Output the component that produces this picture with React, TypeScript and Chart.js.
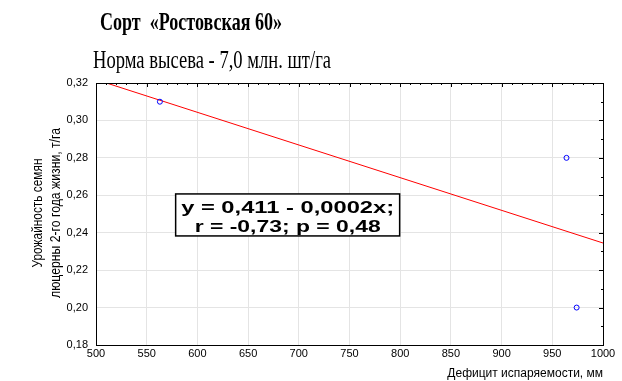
import React, { useEffect, useRef } from "react";
import { Chart, registerables } from "chart.js";

Chart.register(...registerables);

const titleText = "Сорт  «Ростовская 60»";
const subtitleText = "Норма высева - 7,0 млн. шт/га";
const yTitleLines = ["Урожайность семян", "люцерны 2-го года жизни, т/га"];
const xTitleText = "Дефицит испаряемости, мм";
const annotationLines = ["y = 0,411 - 0,0002x;", "r = -0,73; p = 0,48"];
const annotationAnchor = { x: 689, y: 0.2495 };

const pointX = [563, 964, 974];
const pointY = [0.31, 0.28, 0.2];

const fitX = [500, 1000];
const fitY = [0.3218, 0.2345];

const xMin = 500, xMax = 1000, xStep = 50, xMinor = 10;
const yMin = 0.18, yMax = 0.32, yStep = 0.02, yMinor = 0.01;

function fmt(v: number, d: number) {
  return v.toFixed(d).replace(".", ",");
}

function drawFitText(ctx: CanvasRenderingContext2D, text: string, font: string, cx: number, baseline: number, targetW: number, sy: number) {
  ctx.save();
  ctx.font = font;
  const w = ctx.measureText(text).width;
  const sx = targetW / w;
  ctx.translate(cx, baseline);
  ctx.scale(sx, sy);
  ctx.textAlign = "center";
  ctx.textBaseline = "alphabetic";
  ctx.fillText(text, 0, 0);
  ctx.restore();
}

const decorPlugin = {
  id: "decor",
  afterDraw(chart: any) {
    const ctx: CanvasRenderingContext2D = chart.ctx;
    const { left, right, top, bottom } = chart.chartArea;
    const xs = chart.scales.x;
    const ys = chart.scales.y;
    ctx.save();
    ctx.fillStyle = "#000";
    // titles
    drawFitText(ctx, titleText, "bold 19px 'Liberation Serif', 'Times New Roman', serif", 191, 30, 182, 1.3);
    drawFitText(ctx, subtitleText, "20px 'Liberation Serif', 'Times New Roman', serif", 212, 68, 238, 1.3);
    // y title (rotated)
    const yc = (top + bottom) / 2 - 1;
    const yt = [
      { x: 42, w: 109 },
      { x: 60, w: 170 },
    ];
    yTitleLines.forEach((t, i) => {
      ctx.save();
      ctx.translate(yt[i].x, yc);
      ctx.rotate(-Math.PI / 2);
      ctx.font = "12px 'Liberation Sans Narrow', 'Arial Narrow', 'Liberation Sans', sans-serif";
      const w = ctx.measureText(t).width;
      ctx.scale(yt[i].w / w, 1.15);
      ctx.textAlign = "center";
      ctx.textBaseline = "alphabetic";
      ctx.fillText(t, 0, 0);
      ctx.restore();
    });
    // frame
    ctx.strokeStyle = "#000";
    ctx.lineWidth = 1;
    ctx.strokeRect(Math.round(left) + 0.5, Math.round(top) + 0.5, Math.round(right - left), Math.round(bottom - top));
    // ticks on top and right
    ctx.beginPath();
    for (let v = xMin; v <= xMax + 1e-9; v += xMinor) {
      const px = Math.round(xs.getPixelForValue(v)) + 0.5;
      const major = Math.abs(((v - xMin) / xStep) - Math.round((v - xMin) / xStep)) < 1e-6;
      const len = major ? 4 : 2;
      ctx.moveTo(px, top);
      ctx.lineTo(px, top + len);
    }
    for (let v = yMin; v <= yMax + 1e-9; v += yMinor) {
      const py = Math.round(ys.getPixelForValue(v)) + 0.5;
      const major = Math.abs(((v - yMin) / yStep) - Math.round((v - yMin) / yStep)) < 1e-6;
      const len = major ? 4 : 2;
      ctx.moveTo(right, py);
      ctx.lineTo(right - len, py);
    }
    ctx.stroke();
    // annotation box
    const cx = xs.getPixelForValue(annotationAnchor.x);
    const cy = ys.getPixelForValue(annotationAnchor.y);
    const bw = 224, bh = 42;
    ctx.fillStyle = "#fff";
    ctx.fillRect(cx - bw / 2, cy - bh / 2, bw, bh);
    ctx.lineWidth = 1.5;
    ctx.strokeRect(cx - bw / 2, cy - bh / 2, bw, bh);
    ctx.fillStyle = "#000";
    drawFitText(ctx, annotationLines[0], "bold 15px 'Liberation Sans', Arial, sans-serif", cx, cy - 2, 213, 1.1);
    drawFitText(ctx, annotationLines[1], "bold 15px 'Liberation Sans', Arial, sans-serif", cx, cy + 17, 186, 1.1);
    ctx.restore();
  },
};

export default function App() {
  const ref = useRef<HTMLCanvasElement>(null);
  useEffect(() => {
    if (!ref.current) return;
    const tickFont = { family: "'Liberation Sans', Arial, sans-serif", size: 11 };
    const chart = new Chart(ref.current, {
      type: "scatter",
      data: {
        datasets: [
          {
            type: "line",
            data: fitX.map((x, i) => ({ x, y: fitY[i] })),
            borderColor: "#ff0000",
            borderWidth: 1,
            pointRadius: 0,
            fill: false,
            order: 2,
          } as any,
          {
            type: "scatter",
            data: pointX.map((x, i) => ({ x, y: pointY[i] })),
            borderColor: "#0000ff",
            backgroundColor: "rgba(0,0,0,0)",
            borderWidth: 1,
            pointRadius: 2.5,
            pointStyle: "circle",
            order: 1,
          },
        ],
      },
      options: {
        responsive: false,
        animation: false,
        events: [],
        layout: { padding: { top: 83, right: 19, left: 0, bottom: 0 } },
        plugins: { legend: { display: false }, tooltip: { enabled: false }, title: { display: false } },
        scales: {
          x: {
            type: "linear",
            min: xMin,
            max: xMax,
            ticks: { stepSize: xStep, font: tickFont, color: "#000", padding: 2, maxRotation: 0, callback: (v: any) => String(v) },
            grid: { color: "#e4e4e4", drawTicks: false },
            border: { color: "#000" },
            title: { display: true, text: xTitleText, align: "end", color: "#000", font: { family: "'Liberation Sans', Arial, sans-serif", size: 12 }, padding: { top: 3, bottom: 0 } },
            afterFit: (s: any) => { s.height = 36; },
          },
          y: {
            type: "linear",
            min: yMin,
            max: yMax,
            ticks: { stepSize: yStep, font: tickFont, color: "#000", padding: 8, callback: (v: any) => fmt(Number(v), 2) },
            grid: { color: "#e4e4e4", drawTicks: false },
            border: { color: "#000" },
            afterFit: (s: any) => { s.width = 96; },
          },
        },
      },
      plugins: [decorPlugin],
    } as any);
    return () => chart.destroy();
  }, []);
  return (
    <div style={{ position: "absolute", left: 0, top: 0, width: 622, height: 381, background: "#fff" }}>
      <canvas ref={ref} width={622} height={381} style={{ display: "block" }} />
    </div>
  );
}
